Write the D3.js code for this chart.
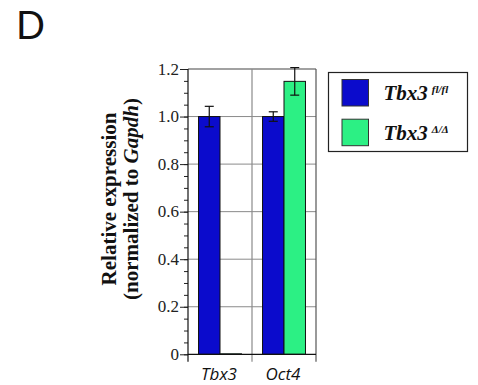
<!DOCTYPE html>
<html>
<head>
<meta charset="utf-8">
<script src="https://cdn.jsdelivr.net/npm/d3@7"></script>
<style>
  body { margin: 0; background: #fff; }
  svg { display: block; }
</style>
</head>
<body>
<svg id="chart" width="478" height="385"></svg>
<script>
// data
var categories = ["Tbx3", "Oct4"];
var genotypes = ["fl/fl", "Δ/Δ"];
var flflValues = [1.0, 1.0];
var flflErrors = [0.043, 0.02];
var deltaValues = [0.002, 1.148];
var deltaErrors = [0, 0.058];
var yTicks = [0, 0.2, 0.4, 0.6, 0.8, 1.0, 1.2];
var yTickLabels = ["0", "0.2", "0.4", "0.6", "0.8", "1.0", "1.2"];
var yMinorTicks = d3.range(0, 1.2001, 0.05);
var colors = ["#0b0bcc", "#2cf084"];

var svg = d3.select("#chart");
var serif = "'Liberation Serif', 'Times New Roman', Times, serif";

var margins = { left: 188, right: 162, top: 69, bottom: 30.7 };
var width = 478, height = 385;

var x = d3.scaleBand()
  .domain(categories)
  .range([margins.left, width - margins.right])
  .padding(0);

var xSub = d3.scaleBand()
  .domain(genotypes)
  .range([0, x.bandwidth()])
  .paddingInner(0)
  .paddingOuter(0.49);

var y = d3.scaleLinear()
  .domain([0, 1.2])
  .range([height - margins.bottom, margins.top]);

var rows = [];
categories.forEach(function(c, i) {
  rows.push({ cat: c, g: genotypes[0], v: flflValues[i], e: flflErrors[i], k: 0 });
  rows.push({ cat: c, g: genotypes[1], v: deltaValues[i], e: deltaErrors[i], k: 1 });
});

// horizontal grid lines
svg.append("g")
  .selectAll("line")
  .data(yTicks.slice(1, -1))
  .enter().append("line")
  .attr("x1", x.range()[0]).attr("x2", x.range()[1])
  .attr("y1", function(d) { return y(d); })
  .attr("y2", function(d) { return y(d); })
  .attr("stroke", "#8a8a8a").attr("stroke-width", 1);

// top border
svg.append("line")
  .attr("x1", x.range()[0]).attr("x2", x.range()[1])
  .attr("y1", y(1.2)).attr("y2", y(1.2))
  .attr("stroke", "#444").attr("stroke-width", 1.2);

// vertical category boundaries, running a bit below zero
var bounds = categories.map(function(c) { return x(c); }).concat([x.range()[1]]);
svg.append("g")
  .selectAll("line")
  .data(bounds.slice(1))
  .enter().append("line")
  .attr("x1", function(d) { return d; }).attr("x2", function(d) { return d; })
  .attr("y1", y(1.2)).attr("y2", y(0) + 7.5)
  .attr("stroke", function(d, i) { return i == bounds.length - 2 ? "#555" : "#8a8a8a"; })
  .attr("stroke-width", 1.2);

// bars
svg.append("g")
  .selectAll("rect")
  .data(rows)
  .enter().append("rect")
  .attr("x", function(d) { return x(d.cat) + xSub(d.g); })
  .attr("y", function(d) { return y(d.v); })
  .attr("width", xSub.bandwidth())
  .attr("height", function(d) { return y(0) - y(d.v); })
  .attr("fill", function(d) { return colors[d.k]; })
  .attr("stroke", "#111")
  .attr("stroke-width", 1);

// error bars
var err = svg.append("g").selectAll("g")
  .data(rows.filter(function(d) { return d.e > 0; }))
  .enter().append("g")
  .attr("stroke", "#111").attr("stroke-width", 1.2);
err.append("line")
  .attr("x1", function(d) { return x(d.cat) + xSub(d.g) + xSub.bandwidth() / 2; })
  .attr("x2", function(d) { return x(d.cat) + xSub(d.g) + xSub.bandwidth() / 2; })
  .attr("y1", function(d) { return y(d.v + d.e); })
  .attr("y2", function(d) { return y(d.v - d.e); });
[1, -1].forEach(function(s) {
  err.append("line")
    .attr("x1", function(d) { return x(d.cat) + xSub(d.g) + xSub.bandwidth() / 2 - 4.5; })
    .attr("x2", function(d) { return x(d.cat) + xSub(d.g) + xSub.bandwidth() / 2 + 4.5; })
    .attr("y1", function(d) { return y(d.v + s * d.e); })
    .attr("y2", function(d) { return y(d.v + s * d.e); });
});

// zero line
svg.append("line")
  .attr("x1", x.range()[0]).attr("x2", x.range()[1])
  .attr("y1", y(0)).attr("y2", y(0))
  .attr("stroke", "#111").attr("stroke-width", 1.2);

// y axis, minor then major ticks (labels drawn separately below)
svg.append("g")
  .attr("transform", "translate(" + margins.left + ",0)")
  .call(d3.axisLeft(y).tickValues(yMinorTicks).tickSize(4).tickFormat(""))
  .call(function(g) { g.select(".domain").remove(); })
  .selectAll("line").attr("stroke", "#222");

svg.append("g")
  .attr("transform", "translate(" + margins.left + ",0)")
  .call(d3.axisLeft(y).tickValues(yTicks).tickSize(8).tickFormat(""))
  .call(function(g) { g.select(".domain").remove(); })
  .selectAll("line").attr("stroke", "#222");

svg.append("g")
  .selectAll("text")
  .data(yTicks)
  .enter().append("text")
  .attr("x", margins.left - 9)
  .attr("y", function(d) { return y(d); })
  .attr("dy", "0.33em")
  .attr("text-anchor", "end")
  .attr("font-family", serif)
  .attr("font-size", 17)
  .attr("fill", "#222")
  .text(function(d, i) { return yTickLabels[i]; });

svg.append("line")
  .attr("x1", margins.left).attr("x2", margins.left)
  .attr("y1", y(1.2)).attr("y2", y(0) + 7.5)
  .attr("stroke", "#111").attr("stroke-width", 1.2);

// category labels
svg.append("g")
  .selectAll("text")
  .data(categories)
  .enter().append("text")
  .attr("x", function(d) { return x(d) + x.bandwidth() / 2 - 1; })
  .attr("y", 380)
  .attr("text-anchor", "middle")
  .attr("font-family", "'Open Sans', sans-serif")
  .attr("font-style", "italic")
  .attr("font-size", 17)
  .attr("fill", "#111")
  .text(function(d) { return d; });

// y title, two lines
var title = svg.append("text")
  .attr("transform", "translate(0," + 199 + ") rotate(-90)")
  .attr("text-anchor", "middle")
  .attr("font-family", serif)
  .attr("font-weight", "bold")
  .attr("font-size", 21)
  .attr("fill", "#111");
title.append("tspan").attr("x", 0).attr("y", 115.5).text("Relative expression");
var t2 = title.append("tspan").attr("x", 0).attr("y", 137.5);
t2.text("(normalized to ");
title.append("tspan").attr("font-style", "italic").text("Gapdh");
title.append("tspan").text(")");

// panel letter
svg.append("text")
  .attr("x", 16).attr("y", 38.5)
  .attr("font-family", "Lato, 'Open Sans', sans-serif")
  .attr("font-size", 38)
  .attr("fill", "#111")
  .text("D");

// legend
var legend = svg.append("g");
legend.append("rect")
  .attr("x", 328.5).attr("y", 72.5)
  .attr("width", 139).attr("height", 79)
  .attr("fill", "none").attr("stroke", "#222").attr("stroke-width", 1.2);
var items = legend.selectAll("g.item")
  .data(genotypes)
  .enter().append("g")
  .attr("class", "item")
  .attr("transform", function(d, i) { return "translate(0," + (i * 39.7) + ")"; });
items.append("rect")
  .attr("x", 342).attr("y", 79.5)
  .attr("width", 26.5).attr("height", 26.5)
  .attr("fill", function(d, i) { return colors[i]; })
  .attr("stroke", "#333").attr("stroke-width", 1);
var lt = items.append("text")
  .attr("x", 383.5).attr("y", 100)
  .attr("font-family", serif)
  .attr("font-weight", "bold")
  .attr("font-style", "italic")
  .attr("font-size", 21)
  .attr("fill", "#111");
lt.append("tspan").text("Tbx3");
lt.append("tspan")
  .attr("dx", 4).attr("dy", -7)
  .attr("font-size", 11)
  .text(function(d) { return d; });
</script>
</body>
</html>
